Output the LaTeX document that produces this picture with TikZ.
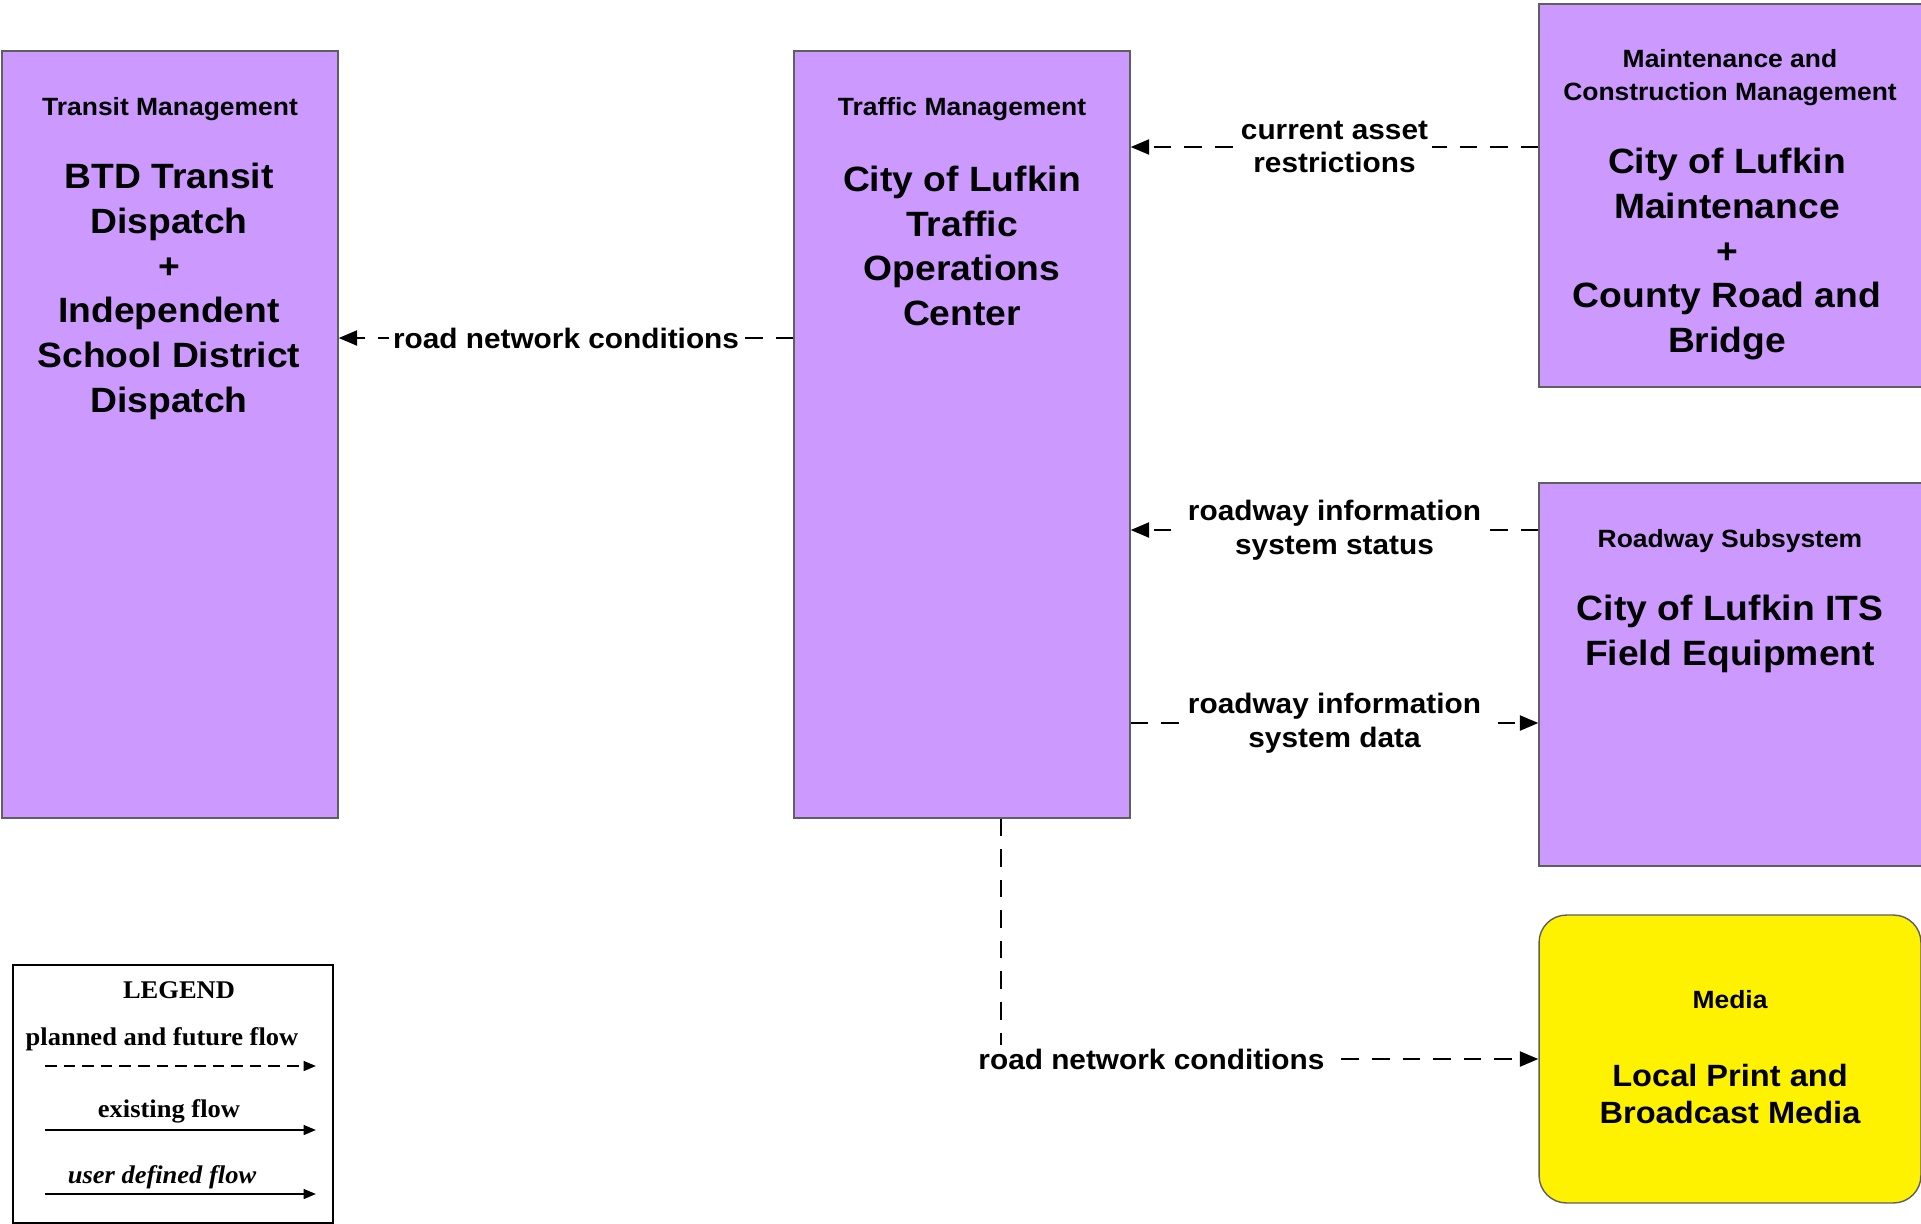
\documentclass[tikz,border=0pt]{standalone}
\usepackage{fontspec}
\setmainfont{Liberation Sans}[FakeStretch=1.06]
\newfontfamily\legendfont{Liberation Serif}[FakeStretch=1.04]
\usepackage{tikz}
\usetikzlibrary{arrows.meta}
\usetikzlibrary{positioning}

\definecolor{sysPurple}{RGB}{204,153,255}
\definecolor{boxGray}{RGB}{95,95,95}

\begin{document}
\begin{tikzpicture}[x=0.02cm,y=-0.02cm,>={Triangle[length=10.5pt,width=8.5pt]},
  flow/.style={->,line width=1.4pt,dash pattern=on 10pt off 7.4pt},
  sys node/.style={rectangle,fill=sysPurple,draw=boxGray,line width=0.8pt,inner sep=0pt},
  class text/.style={font=\bfseries\fontsize{14.2}{18.7}\selectfont,align=center},
  sys text/.style={font=\bfseries\fontsize{20}{25.5}\selectfont,align=center},
  msg/.style={font=\bfseries\fontsize{16}{19.3}\selectfont,align=center,fill=white,inner sep=2pt},
  leg text/.style={font=\legendfont\bfseries\fontsize{14.5}{16}\selectfont},
  legflow/.style={-{Triangle[length=7pt,width=5.5pt]},line width=1.2pt}]

  \useasboundingbox (0,0) rectangle (1921,1224);

  \node[sys node,minimum width=6.72cm,minimum height=15.34cm] (transit) at (170,434.5) {};
  \node[sys node,minimum width=6.72cm,minimum height=15.34cm] (traffic) at (962,434.5) {};
  \node[sys node,minimum width=7.7cm,minimum height=7.66cm] (maint) at (1731.5,195.5) {};
  \node[sys node,minimum width=7.7cm,minimum height=7.66cm] (roadway) at (1731.5,674.5) {};
  \node[sys node,fill=yellow,rounded corners=0.55cm,minimum width=7.64cm,minimum height=5.76cm] (media) at (1730,1059) {};

  \node[class text] (transitT) at (170,109) {Transit Management};
  \node[sys text] (transitN) at (169,291.5) {BTD Transit\\Dispatch\\+\\Independent\\School District\\Dispatch};
  \node[class text] (trafficT) at (962,109) {Traffic Management};
  \node[sys text] (trafficN) at (962,246) {City of Lufkin\\Traffic\\Operations\\Center};
  \node[class text] (maintT) at (1730,77.5) {Maintenance and\\Construction Management};
  \node[sys text] (maintN) at (1727,254) {City of Lufkin\\Maintenance\\+\\County Road and\\Bridge};
  \node[class text] (roadwayT) at (1730,541) {Roadway Subsystem};
  \node[sys text] (roadwayN) at (1730,634) {City of Lufkin ITS\\Field Equipment};
  \node[class text] (mediaT) at (1730,1000) {Media};
  \node[sys text,font=\bfseries\fontsize{17.5}{21.5}\selectfont] (mediaN) at (1730,1094) {Local Print and\\Broadcast Media};

  \draw[flow] (traffic.west |- 0,338) -- node[msg] {road network conditions} (transit.east |- 0,338);
  \draw[flow] (maint.west |- 0,147) -- node[msg] {current asset\\restrictions} (traffic.east |- 0,147);
  \draw[flow] (roadway.west |- 0,530) -- node[msg] {roadway information\\system status} (traffic.east |- 0,530);
  \draw[flow] (traffic.east |- 0,723) -- node[msg] {roadway information\\system data} (roadway.west |- 0,723);
  \draw[flow] (traffic.south -| 1001,0) |- node[msg,pos=0.64] {road network conditions} (media.west);

  \node[draw,line width=1.6pt,minimum width=6.4cm,minimum height=5.16cm] (legend) at (173,1094) {};
  \node[leg text] (legT) at (179,990) {LEGEND};
  \node[leg text] (leg1) at (162,1039) {planned and future flow};
  \node[leg text] (leg2) at (169,1111) {existing flow};
  \node[leg text,font=\legendfont\bfseries\itshape\fontsize{14.5}{16}\selectfont] (leg3) at (162,1177) {user defined flow};
  \coordinate (l1a) at (45,1066);
  \coordinate (l1b) at (316,1066);
  \coordinate (l2a) at (45,1130);
  \coordinate (l2b) at (316,1130);
  \coordinate (l3a) at (45,1194);
  \coordinate (l3b) at (316,1194);
  \draw[legflow,dash pattern=on 6.6pt off 4pt] (l1a) -- (l1b);
  \draw[legflow] (l2a) -- (l2b);
  \draw[legflow] (l3a) -- (l3b);
\end{tikzpicture}
\end{document}
